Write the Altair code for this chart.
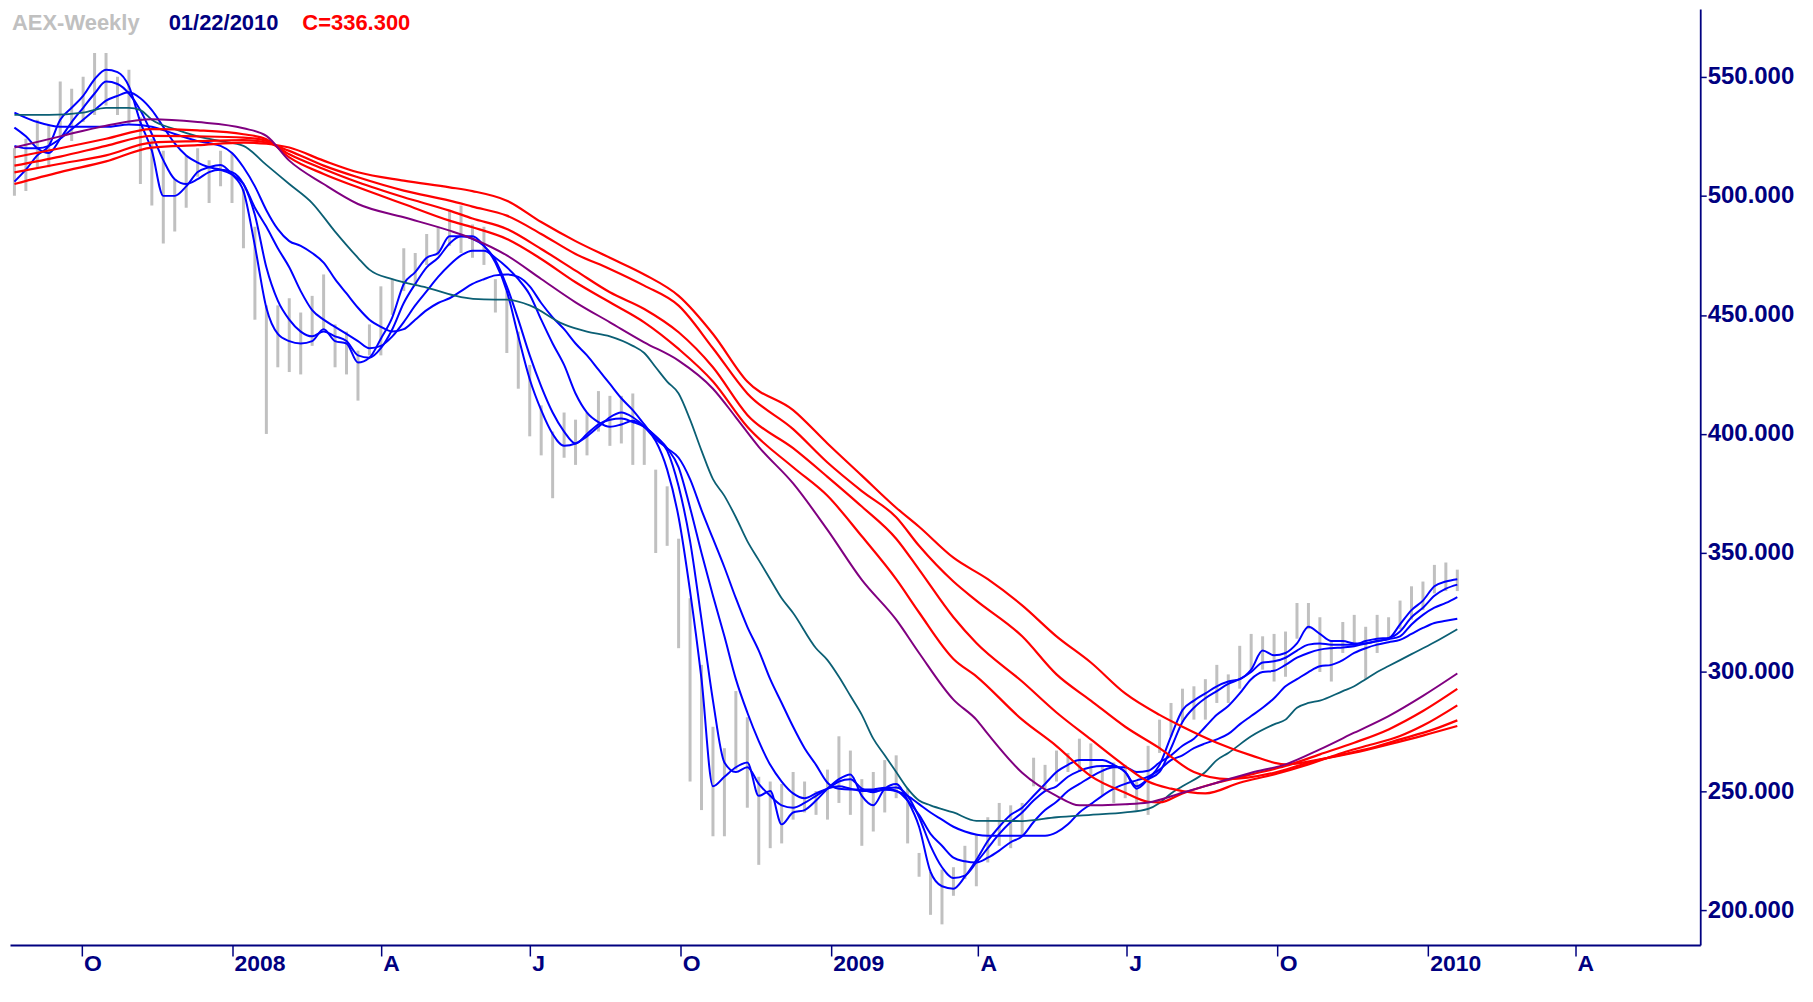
import altair as alt
import pandas as pd

# ---------------- data ----------------
START = "2007-08-21"  # first weekly bar (bars are one week apart)

HIGH = [520, 524, 532, 530, 548, 545, 550, 560, 560, 550,
        553, 533, 524, 519, 507, 517, 520, 515, 519, 518,
        503, 487, 454, 454, 457, 451, 458, 467, 446, 443,
        435, 446, 462, 465, 478, 476, 484, 487, 494, 496,
        488, 487, 465, 460, 443, 429, 412, 401, 409, 406,
        409, 418, 416, 416, 417, 403, 385, 378, 356, 331,
        303, 277, 268, 292, 281, 256, 254, 253, 258, 254,
        250, 259, 273, 267, 255, 258, 263, 265, 251, 224,
        216, 217, 218, 227, 232, 239, 245, 244, 245, 264,
        261, 267, 266, 272, 270, 261, 262, 261, 254, 269,
        280, 287, 293, 294, 297, 303, 299, 311, 316, 315,
        316, 317, 329, 329, 323, 313, 321, 324, 319, 324,
        323, 330, 336, 338, 345, 346, 343]

LOW = [500, 502, 512, 512, 524, 523, 531, 534, 538, 534,
       530, 505, 496, 480, 485, 495, 508, 497, 504, 497,
       478, 448, 400, 428, 426, 425, 437, 444, 428, 425,
       414, 433, 433, 450, 460, 462, 471, 475, 479, 476,
       474, 471, 451, 434, 419, 399, 391, 373, 390, 387,
       391, 401, 395, 396, 387, 387, 350, 353, 310, 254,
       242, 231, 231, 259, 243, 219, 226, 228, 238, 241,
       240, 238, 245, 240, 227, 233, 241, 247, 228, 214,
       198, 194, 206, 213, 210, 220, 227, 226, 231, 252,
       250, 254, 258, 258, 256, 248, 245, 247, 242, 240,
       266, 273, 279, 280, 280, 287, 287, 293, 301, 301,
       296, 298, 314, 318, 300, 296, 308, 311, 297, 308,
       314, 318, 322, 326, 333, 334, 334]

# short-term averages, one value per week
B1 = [506, 511, 517, 521, 532, 537, 542, 549, 553, 552,
      546, 531, 519, 500, 500, 504, 510, 512, 513, 509,
      502, 479, 453, 442, 439, 438, 439, 444, 439, 438,
      430, 432, 440, 449, 463, 468, 474, 476, 483, 483,
      483, 479, 472, 460, 441, 423, 410, 400, 395, 396,
      399, 403, 407, 409, 407, 403, 397, 385, 365, 334,
      297, 252, 256, 260, 262, 248, 250, 236, 241, 242,
      246, 251, 255, 257, 248, 244, 251, 253, 246, 235,
      216, 210, 209, 214, 221, 229, 235, 240, 243, 248,
      253, 258, 261, 263, 263, 263, 261, 258, 251, 255,
      261, 273, 284, 288, 291, 294, 296, 297, 301, 309,
      307, 308, 312, 319, 316, 313, 313, 312, 312, 313,
      314, 320, 326, 330, 336, 338, 339]

B2 = [528.7, 525, 520, 518, 524, 531, 537, 543, 548, 547,
      543, 536, 526, 515, 507, 505, 507, 510, 511, 510,
      505, 492, 470, 456, 448, 443, 441, 443, 441, 439,
      433, 432, 436, 444, 455, 463, 470, 474, 480, 483,
      482, 479, 473, 462, 448, 433, 420, 409, 401, 396,
      400, 404, 406, 406.5, 405, 403, 399, 393, 378, 355,
      322, 288, 262, 258, 260, 253, 248, 244, 243, 245,
      248, 251, 254, 255, 251, 249.5, 251, 251.5, 248, 239,
      227, 218, 213.5, 214.5, 220, 226, 232, 237, 241, 246,
      250, 252, 256, 258.5, 260, 260.5, 260.5, 258, 252, 255,
      258, 268, 279, 285, 289, 292, 295, 297, 300, 304,
      304.5, 306, 309, 311.5, 312, 311.5, 311.5, 311.5, 313, 314,
      314.3, 317, 323, 327, 332, 335, 336.7]

B3 = [521, 520, 520, 521, 524, 528, 532, 536, 540, 542,
      543.5, 541, 536, 529, 522, 517, 514, 512, 511, 509,
      505, 495, 487, 478, 470, 460, 452, 448, 445, 442,
      439, 436, 437, 441, 447, 454, 460, 466, 471, 475,
      477, 477, 474, 470, 465, 458.5, 448, 438, 429, 417,
      409, 405, 403, 404, 405.5, 403, 399, 394, 386, 369,
      350, 332, 315, 297, 283, 271, 261, 254, 249, 247,
      249, 251, 252, 251, 250, 250, 250.5, 250, 246, 240,
      232, 227, 222, 220.5, 220, 222, 225, 228.5, 231, 237,
      242, 245.5, 250, 253, 256, 258.5, 260, 260, 258, 258.5,
      262, 265, 269, 272, 277, 282, 285.7, 291, 297, 300,
      300.5, 303, 306, 308, 309.4, 310, 310.3, 310.8, 312, 313,
      313.8, 315, 320, 324, 327, 329, 331.5]

# (week, value) pairs
B4 = [(0, 535), (2, 531), (4, 529), (6, 529), (8, 529), (10, 530), (12, 529), (14, 526),
      (16, 523), (18, 521), (19, 518), (20, 512), (21, 504), (22, 494), (23, 486), (24, 481),
      (25, 479), (26, 476), (27, 472), (28, 465), (29, 459), (30, 453), (31, 448), (32, 445),
      (33, 443), (34, 444), (35, 448), (36, 452), (37, 455), (38, 457), (39, 460), (40, 463),
      (41, 465), (42, 466.6), (43, 467), (44, 466), (45, 462), (46, 455), (47, 449), (48, 444),
      (49, 438), (50, 433), (51, 427), (52, 421), (53, 415), (54, 410), (55, 404), (56, 398),
      (57, 394), (58, 390), (59, 381), (60, 368), (61, 356), (62, 344), (63, 331), (64, 319),
      (65, 309), (66, 297), (67, 287), (68, 277), (69, 268), (70, 261), (71, 253.5), (72, 251),
      (73, 250.7), (75, 250.7), (76, 251.4), (77, 250), (78, 248), (79, 244.5), (80, 241),
      (81, 238), (82, 235), (83, 233), (85, 231.2), (88, 231.2), (90, 231.2), (91, 232.6),
      (92, 236), (93, 241), (94, 244.5), (95, 248), (96, 251), (97, 253), (98, 254.5), (99, 256),
      (100, 259), (101, 263), (102, 265), (103, 268), (104, 270), (105, 271.7), (106, 274),
      (107, 278), (108, 281.5), (109, 285), (110, 289), (111, 294), (112, 297), (113, 300),
      (114, 302.4), (115, 303), (116, 305), (117, 308), (118, 310), (119, 311.5), (120, 312.5),
      (121, 313.5), (122, 316), (123, 318.5), (124, 320.6), (125, 321.5), (126, 322.4)]

TEAL = [(0, 534), (3, 534), (6, 535), (8, 537), (10, 537), (11, 536), (12, 532), (14, 528),
        (16, 525), (18, 523), (20, 521), (22, 513), (24, 505), (26, 497), (28, 485), (30, 474),
        (31, 469), (33, 465), (36, 461.5), (39, 457.5), (41, 456.5), (43, 456.4), (45, 454),
        (48, 446), (50, 443), (52, 441), (54, 437), (55, 434), (56, 428), (57, 422), (58, 417),
        (59, 406), (60, 393), (61, 381), (62, 374), (63, 365), (64, 355), (65, 347), (66, 339),
        (67, 331), (68, 324.8), (70, 310), (71, 305), (72, 298), (73, 290), (74, 282), (75, 272),
        (76, 265), (77, 258), (78, 251), (79, 246), (80, 244), (82, 241), (84, 237.5),
        (88, 237.4), (91, 239), (94, 240), (97, 241), (99, 242.5), (100, 245), (101, 249),
        (102, 252), (104, 258), (105, 263), (106, 266), (108, 273), (110, 278), (111, 280),
        (112, 285), (113, 287), (114, 288), (116, 292), (117, 294), (118, 297), (119, 300),
        (120, 302.5), (122, 307.5), (124, 312.5), (126, 318)]

# long-term averages (week, value)
RA = [(0, 505), (4, 510), (8, 514.5), (12, 520.3), (16, 521.3), (20, 522.4), (22, 521.9),
      (24, 520.3), (27, 514.8), (30, 509.9), (34, 506.4), (38, 503.6), (40, 502), (43, 498),
      (46, 489), (49, 481), (52, 474), (55, 467), (58, 458), (61, 442), (64, 422), (68, 410),
      (71, 396), (74, 382.5), (77, 369), (79, 361), (82, 348), (85, 339), (88, 328), (91, 315),
      (94, 304), (97, 291), (100, 282), (102, 277), (105, 270.3), (108, 265), (111, 261.2),
      (114, 263.3), (117, 266.1), (120, 269.6), (123, 273.3), (126, 277.3)]

RB = [(0, 509.9), (4, 513.5), (8, 517), (12, 522.4), (16, 523), (20, 523.4), (22, 522.4),
      (24, 518.9), (27, 512.7), (30, 507.8), (34, 502.2), (38, 498), (40, 495.5), (43, 491.7),
      (46, 484), (49, 475.6), (52, 469.3), (55, 462.3), (58, 453.9), (61, 436), (64, 417),
      (68, 402), (71, 388), (74, 376), (77, 365), (79, 353), (82, 338), (84, 330), (88, 315),
      (91, 299), (94, 288), (97, 277), (100, 268), (103, 258), (106, 255), (110, 257.7),
      (113, 261.9), (116, 265.4), (118, 267.5), (121, 271.7), (124, 276), (126, 279.7)]

RC = [(0, 512.7), (4, 516.5), (8, 521), (12, 525.2), (16, 525), (20, 524.5), (22, 523.1),
      (24, 517.5), (27, 511.3), (30, 505.7), (34, 499.4), (38, 493.8), (40, 490.5), (43, 486.1),
      (46, 477.7), (49, 468.6), (52, 459.5), (55, 452.5), (58, 442.7), (61, 428), (64, 408),
      (68, 394), (71, 382), (74, 369.5), (77, 356), (79, 343), (82, 323), (84, 312.2), (88, 296),
      (91, 283), (94, 271.7), (97, 260.5), (99, 254), (101, 251), (104, 249), (107, 253.5),
      (110, 257), (113, 261.2), (116, 266.1), (118, 268.9), (121, 273.1), (123, 277.5), (126, 286)]

RD = [(0, 516.2), (4, 520), (8, 524), (12, 528), (16, 527.5), (20, 525.9), (22, 523.8),
      (24, 516.2), (27, 509.2), (30, 503.6), (34, 496.6), (38, 489.6), (40, 486.8), (43, 481.9),
      (46, 473.5), (49, 463.7), (52, 455.3), (55, 446.9), (58, 435.7), (61, 422), (64, 403),
      (68, 386), (71, 374), (74, 357), (77, 339), (79, 325), (82, 305.5), (84, 298.2), (88, 280),
      (91, 268.9), (94, 256.3), (97, 249.3), (99, 245.5), (100, 245.2), (102, 249), (105, 253.5),
      (108, 257), (111, 260.5), (114, 265.4), (117, 270.3), (120, 275.9), (123, 283.6), (126, 292.9)]

PURPLE = [(0, 520.3), (4, 525), (8, 529.5), (12, 532.2), (16, 531), (20, 528.4), (22, 525.2),
          (24, 514.8), (27, 505), (30, 496.6), (34, 491), (38, 485.4), (40, 482), (43, 475),
          (46, 465.1), (49, 455.3), (52, 446.9), (55, 438.5), (58, 430.8), (61, 419), (63, 407),
          (65, 394.6), (68, 379.2), (71, 359.7), (74, 338.7), (77, 322), (79, 308), (82, 288.4),
          (84, 280), (85, 274), (88, 257.7), (91, 248), (93, 244), (97, 244.5), (99, 245.2),
          (102, 249.3), (105, 253.5), (108, 257.7), (111, 261.2), (114, 267.5), (117, 274.5),
          (120, 281.5), (123, 290), (126, 299.4)]

TICK_DATES = ["2007-10-01", "2008-01-01", "2008-04-01", "2008-07-01", "2008-10-01",
              "2009-01-01", "2009-04-01", "2009-07-01", "2009-10-01", "2010-01-01", "2010-04-01"]
TICK_LABELS = ["O", "2008", "A", "J", "O", "2009", "A", "J", "O", "2010", "A"]
Y_TICKS = [200, 250, 300, 350, 400, 450, 500, 550]

TITLE_NAME = "AEX-Weekly"
TITLE_DATE = "01/22/2010"
TITLE_CLOSE = "C=336.300"

# ---------------- build tables ----------------
start = pd.Timestamp(START)


def wdate(k):
    return start + pd.Timedelta(days=7 * k)


bars = pd.DataFrame({"date": [wdate(k) for k in range(len(HIGH))], "high": HIGH, "low": LOW})


def dense(vals):
    return pd.DataFrame({"date": [wdate(k) for k in range(len(vals))], "value": vals})


def sparse(pairs):
    return pd.DataFrame({"date": [wdate(k) for k, _ in pairs], "value": [v for _, v in pairs]})


# ---------------- styling ----------------
NAVY = "#000080"
FONT = "Liberation Sans"

x_dom = [alt.DateTime(year=2007, month=8, date=18, hours=7),
         alt.DateTime(year=2010, month=6, date=16, hours=12)]
y_dom = [185.33, 578.46]

tick_vals = [alt.DateTime(year=int(d[:4]), month=int(d[5:7]), date=int(d[8:10])) for d in TICK_DATES]
label_expr = "''"
for d, lab in reversed(list(zip(TICK_DATES, TICK_LABELS))):
    label_expr = f"timeFormat(datum.value, '%Y-%m') == '{d[:7]}' ? '{lab}' : ({label_expr})"

x_axis = alt.Axis(values=tick_vals, labelExpr=label_expr, title=None, grid=False,
                  orient="bottom", domainColor=NAVY, domainWidth=2, tickColor=NAVY,
                  tickSize=11, tickWidth=1.5, labelColor=NAVY, labelFont=FONT,
                  labelFontSize=23, labelFontWeight="bold", labelAlign="left",
                  labelBaseline="alphabetic", labelPadding=15, labelOffset=2,
                  labelOverlap=False, labelFlush=False)
y_axis = alt.Axis(values=Y_TICKS, format=".3f", title=None, grid=False, orient="right",
                  domainColor=NAVY, domainWidth=1.8, tickColor=NAVY, tickSize=6,
                  tickWidth=1.5, labelColor=NAVY, labelFont=FONT, labelFontSize=24,
                  labelFontWeight="bold", labelPadding=1, labelOverlap=False,
                  labelFlush=False)

X = alt.X("date:T", scale=alt.Scale(domain=x_dom), axis=x_axis)


def Y(field):
    return alt.Y(f"{field}:Q", scale=alt.Scale(domain=y_dom, nice=False, zero=False), axis=y_axis)


bar_layer = alt.Chart(bars).mark_rule(color="#c0c0c0", strokeWidth=3, clip=True).encode(
    x=X, y=Y("low"), y2="high:Q")


def line_layer(df, color, width):
    return alt.Chart(df).mark_line(color=color, strokeWidth=width, interpolate="monotone",
                                   clip=True).encode(x=X, y=Y("value"))


layers = [bar_layer,
          line_layer(sparse(B4), "#0000ff", 2),
          line_layer(dense(B3), "#0000ff", 2),
          line_layer(dense(B2), "#0000ff", 2),
          line_layer(dense(B1), "#0000ff", 2),
          line_layer(sparse(TEAL), "#0b5f74", 1.8),
          line_layer(sparse(RA), "#ff0000", 2.2),
          line_layer(sparse(RB), "#ff0000", 2.2),
          line_layer(sparse(RC), "#ff0000", 2.2),
          line_layer(sparse(RD), "#ff0000", 2.2),
          line_layer(sparse(PURPLE), "#800080", 2)]


def title_text(txt, color, xpos):
    return alt.Chart(pd.DataFrame({"t": [txt]})).mark_text(
        align="left", baseline="alphabetic", font=FONT, fontSize=22, fontWeight="bold",
        color=color).encode(text="t:N", x=alt.value(xpos), y=alt.value(21))


layers += [title_text(TITLE_NAME, "#c0c0c0", 2),
           title_text(TITLE_DATE, NAVY, 159),
           title_text(TITLE_CLOSE, "#ff0000", 293)]

chart = alt.layer(*layers).properties(
    width=1694, height=938,
    autosize=alt.AutoSizeParams(type="none"),
    padding={"left": 2, "top": 0, "right": 105, "bottom": 40},
    background="white",
).configure_view(stroke=None)

chart.save("out.html", embed_options={"renderer": "svg", "actions": False})
